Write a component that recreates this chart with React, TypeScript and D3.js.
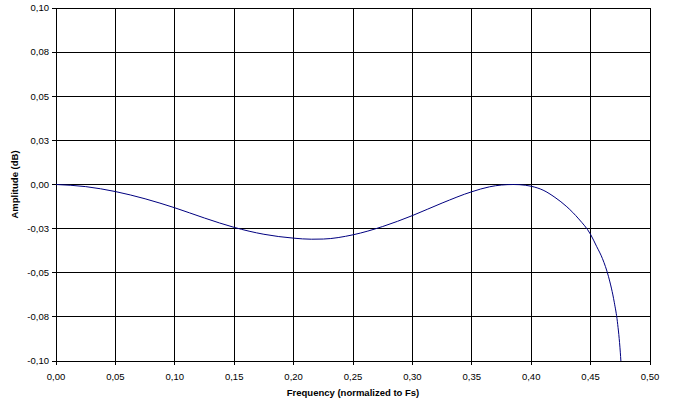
import React from "react";
import * as d3 from "d3";

const freq = [0, 0.025, 0.05, 0.075, 0.1, 0.125, 0.15, 0.175, 0.2, 0.215, 0.225, 0.25, 0.275, 0.3, 0.325, 0.35, 0.365, 0.375, 0.385, 0.395, 0.4, 0.41, 0.42, 0.43, 0.44, 0.45, 0.455, 0.46, 0.465, 0.47, 0.4725, 0.475, 0.4755];
const amplitude = [0, -0.0012, -0.004, -0.0081, -0.0132, -0.019, -0.0243, -0.0282, -0.0304, -0.031, -0.0309, -0.0285, -0.0238, -0.0176, -0.0105, -0.0041, -0.0013, -0.0003, 0, -0.0004, -0.001, -0.0032, -0.0073, -0.0126, -0.0195, -0.0283, -0.035, -0.042, -0.052, -0.067, -0.0775, -0.095, -0.1];

const xTicks = [0, 0.05, 0.1, 0.15, 0.2, 0.25, 0.3, 0.35, 0.4, 0.45, 0.5];
const xTickLabels = ["0,00", "0,05", "0,10", "0,15", "0,20", "0,25", "0,30", "0,35", "0,40", "0,45", "0,50"];
const yTicks = [0.1, 0.075, 0.05, 0.025, 0, -0.025, -0.05, -0.075, -0.1];
const yTickLabels = ["0,10", "0,08", "0,05", "0,03", "0,00", "-0,03", "-0,05", "-0,08", "-0,10"];

const xTitle = "Frequency (normalized to Fs)";
const yTitle = "Amplitude (dB)";

export default function App() {
  const W = 673, H = 402;
  const left = 56, right = 650, top = 8, bottom = 361;
  const x = d3.scaleLinear().domain([0, 0.5]).range([left, right]);
  const y = d3.scaleLinear().domain([-0.1, 0.1]).range([bottom, top]);
  const pts = freq.map((f, i) => [f, amplitude[i]] as [number, number]);
  const line = d3.line<[number, number]>().x(d => x(d[0])).y(d => y(d[1])).curve(d3.curveMonotoneX);
  const font = "'Liberation Sans', Arial, sans-serif";
  return (
    <svg width={W} height={H} style={{ position: "absolute", left: 0, top: 0, background: "#fff" }}>
      <rect x={0} y={0} width={W} height={H} fill="#fff" />
      {xTicks.map((t, i) => (
        <line key={"gx" + i} x1={x(t)} x2={x(t)} y1={top} y2={bottom + 4} stroke="#000" strokeWidth={1} shapeRendering="crispEdges" />
      ))}
      {yTicks.map((t, i) => (
        <line key={"gy" + i} x1={left - 4} x2={right} y1={y(t)} y2={y(t)} stroke="#000" strokeWidth={1} shapeRendering="crispEdges" />
      ))}
      <path d={line(pts) || ""} fill="none" stroke="#000080" strokeWidth={1} />
      {xTicks.map((t, i) => (
        <text key={"xl" + i} x={x(t)} y={380} textAnchor="middle" fontFamily={font} fontSize={9.5} fill="#000">{xTickLabels[i]}</text>
      ))}
      {yTicks.map((t, i) => (
        <text key={"yl" + i} x={49} y={y(t)} dy="0.35em" textAnchor="end" fontFamily={font} fontSize={9.5} fill="#000">{yTickLabels[i]}</text>
      ))}
      <text x={(left + right) / 2} y={396} textAnchor="middle" fontFamily={font} fontSize={9.5} fontWeight="bold" fill="#000">{xTitle}</text>
      <text transform={`translate(18,${(top + bottom) / 2}) rotate(-90)`} textAnchor="middle" fontFamily={font} fontSize={9.5} fontWeight="bold" fill="#000">{yTitle}</text>
    </svg>
  );
}
